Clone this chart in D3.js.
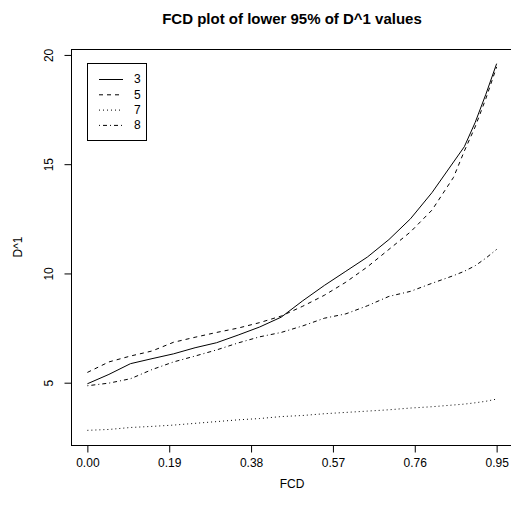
<!DOCTYPE html>
<html>
<head>
<meta charset="utf-8">
<script src="https://cdn.jsdelivr.net/npm/d3@7"></script>
<style>
  body { margin: 0; background: #fff; }
  text { font-family: "Liberation Sans", Arial, sans-serif; fill: #000; }
</style>
</head>
<body>
<div id="chart"></div>
<script>
// FCD values (x)
var fcd = [0, 0.05, 0.10, 0.15, 0.20, 0.25, 0.30, 0.35, 0.40, 0.45,
           0.50, 0.55, 0.60, 0.65, 0.70, 0.75, 0.80, 0.85, 0.875, 0.90, 0.925, 0.95];

// D^1 values per series
var d3vals = [4.95, 5.38, 5.87, 6.10, 6.32, 6.60, 6.83, 7.18, 7.55, 8.00,
              8.75, 9.45, 10.10, 10.75, 11.55, 12.50, 13.70, 15.10, 15.80, 16.90, 18.20, 19.60];
var d5vals = [5.47, 5.95, 6.22, 6.45, 6.85, 7.08, 7.30, 7.50, 7.75, 8.05,
              8.50, 9.00, 9.60, 10.30, 11.10, 11.90, 12.90, 14.40, 15.60, 16.70, 18.00, 19.45];
var d7vals = [2.82, 2.86, 2.95, 3.00, 3.06, 3.14, 3.22, 3.30, 3.36, 3.45,
              3.50, 3.58, 3.64, 3.70, 3.76, 3.84, 3.90, 3.98, 4.02, 4.08, 4.15, 4.25];
var d8vals = [4.86, 4.98, 5.18, 5.60, 5.95, 6.22, 6.50, 6.82, 7.10, 7.30,
              7.60, 7.95, 8.15, 8.52, 8.95, 9.18, 9.55, 9.90, 10.10, 10.35, 10.70, 11.10];

var seriesNames = ["3", "5", "7", "8"];
var xTicks = [0, 0.19, 0.38, 0.57, 0.76, 0.95];
var yTicks = [5, 10, 15, 20];

var series = [
  {name: seriesNames[0], values: d3vals, dash: null},
  {name: seriesNames[1], values: d5vals, dash: "4,4"},
  {name: seriesNames[2], values: d7vals, dash: "1,3"},
  {name: seriesNames[3], values: d8vals, dash: "1,3,4,3"}
];

var W = 511, H = 510;
var box = {left: 71, right: 513, top: 49, bottom: 445};

var svg = d3.select("#chart").append("svg")
    .attr("width", W)
    .attr("height", H);

// scales, R style with 4% padding
var xmin = 0, xmax = 0.95, ymin = 2.82, ymax = 19.6;
var xpad = (xmax - xmin) * 0.04, ypad = (ymax - ymin) * 0.04;
var x = d3.scaleLinear().domain([xmin - xpad, xmax + xpad]).range([box.left, box.right]);
var y = d3.scaleLinear().domain([ymin - ypad, ymax + ypad]).range([box.bottom, box.top]);

// lines
var line = d3.line()
    .x(function(d, i) { return x(fcd[i]); })
    .y(function(d) { return y(d); });

svg.selectAll(".series")
    .data(series)
    .enter().append("path")
    .attr("class", "series")
    .attr("d", function(s) { return line(s.values); })
    .attr("fill", "none")
    .attr("stroke", "#000")
    .attr("stroke-width", 1)
    .attr("stroke-dasharray", function(s) { return s.dash; });

// box
svg.append("rect")
    .attr("x", box.left + 0.5)
    .attr("y", box.top + 0.5)
    .attr("width", box.right - box.left)
    .attr("height", box.bottom - box.top)
    .attr("fill", "none")
    .attr("stroke", "#000");

// x axis
var xAxis = d3.axisBottom(x)
    .tickValues(xTicks)
    .tickSize(7)
    .tickPadding(6)
    .tickFormat(d3.format(".2f"));
var gx = svg.append("g")
    .attr("transform", "translate(0," + (box.bottom + 0.5) + ")")
    .call(xAxis);
gx.select(".domain").remove();
gx.selectAll("text").style("font-size", "12px").attr("font-family", null);

// y axis
var yAxis = d3.axisLeft(y)
    .tickValues(yTicks)
    .tickSize(7)
    .tickFormat(d3.format("d"));
var gy = svg.append("g")
    .attr("transform", "translate(" + (box.left + 0.5) + ",0)")
    .call(yAxis);
gy.select(".domain").remove();
gy.selectAll(".tick text")
    .attr("x", null).attr("dy", null)
    .attr("transform", "translate(-19,0) rotate(-90)")
    .style("text-anchor", "middle")
    .style("font-size", "12px")
    .attr("font-family", null);

// title and axis labels
svg.append("text")
    .attr("x", 292)
    .attr("y", 24)
    .style("text-anchor", "middle")
    .style("font-size", "15px")
    .style("font-weight", "bold")
    .text("FCD plot of lower 95% of D^1 values");

svg.append("text")
    .attr("x", 292)
    .attr("y", 488)
    .style("text-anchor", "middle")
    .style("font-size", "12px")
    .text("FCD");

svg.append("text")
    .attr("transform", "translate(22," + ((box.top + box.bottom) / 2) + ") rotate(-90)")
    .style("text-anchor", "middle")
    .style("font-size", "12px")
    .text("D^1");

// legend
var legend = svg.append("g").attr("transform", "translate(87,63)");
legend.append("rect")
    .attr("x", 0.5).attr("y", 0.5)
    .attr("width", 59).attr("height", 77)
    .attr("fill", "#fff")
    .attr("stroke", "#000");
var items = legend.selectAll(".item")
    .data(series)
    .enter().append("g")
    .attr("transform", function(d, i) { return "translate(0," + (16 + i * 15.3) + ")"; });
items.append("line")
    .attr("x1", 12).attr("x2", 36)
    .attr("y1", 0.5).attr("y2", 0.5)
    .attr("stroke", "#000")
    .attr("stroke-dasharray", function(s) { return s.dash; });
items.append("text")
    .attr("x", 47)
    .attr("y", 0)
    .attr("dy", "0.35em")
    .style("font-size", "12px")
    .text(function(s) { return s.name; });
</script>
</body>
</html>
